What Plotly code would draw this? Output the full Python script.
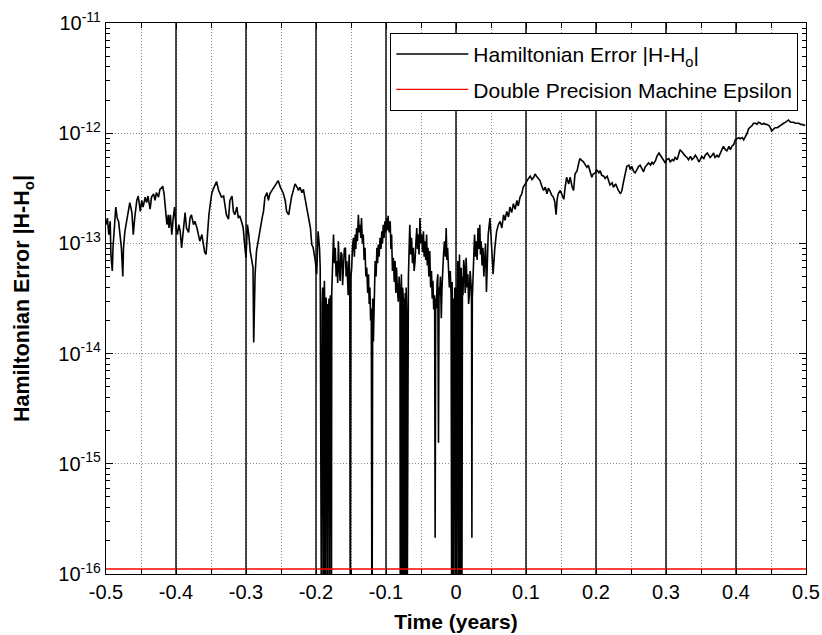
import plotly.graph_objects as go

# ---- data: (time in years, log10 |H - H0|) ----
# a value of -17 means the error falls below the bottom of the axis (drawn off-chart)
west_segment = [
    (-0.500, -12.83), (-0.498, -12.77), (-0.496, -12.92), (-0.494, -12.80), (-0.493, -13.10),
    (-0.491, -13.25), (-0.490, -13.04), (-0.488, -12.86), (-0.486, -12.67), (-0.484, -12.77),
    (-0.482, -12.80), (-0.480, -12.92), (-0.478, -13.04), (-0.476, -13.30), (-0.475, -13.04),
    (-0.473, -12.89), (-0.470, -12.77), (-0.468, -12.67), (-0.466, -12.63), (-0.463, -12.72),
    (-0.461, -12.92), (-0.459, -12.77), (-0.456, -12.61), (-0.454, -12.57), (-0.451, -12.71),
    (-0.449, -12.61), (-0.447, -12.67), (-0.444, -12.58), (-0.442, -12.63), (-0.440, -12.57),
    (-0.437, -12.69), (-0.435, -12.58), (-0.432, -12.55), (-0.430, -12.61), (-0.428, -12.54),
    (-0.425, -12.58), (-0.423, -12.51), (-0.420, -12.49), (-0.419, -12.48), (-0.417, -12.55),
    (-0.415, -12.67), (-0.413, -12.83), (-0.411, -12.74), (-0.410, -12.86), (-0.408, -12.74),
    (-0.406, -12.92), (-0.404, -12.77), (-0.402, -12.67), (-0.400, -12.86), (-0.398, -12.92),
    (-0.396, -12.83), (-0.394, -12.89), (-0.392, -13.04), (-0.389, -12.80), (-0.387, -12.72),
    (-0.385, -12.86), (-0.382, -12.90), (-0.380, -12.77), (-0.378, -12.74), (-0.375, -12.83),
    (-0.373, -12.80), (-0.370, -12.86), (-0.368, -12.92), (-0.366, -12.98), (-0.363, -12.92),
    (-0.361, -13.02), (-0.359, -13.08), (-0.357, -13.10), (-0.355, -12.86), (-0.353, -12.74),
    (-0.351, -12.64), (-0.349, -12.55), (-0.347, -12.51), (-0.344, -12.46), (-0.342, -12.44),
    (-0.339, -12.52), (-0.337, -12.55), (-0.335, -12.58), (-0.332, -12.57), (-0.330, -12.67),
    (-0.328, -12.74), (-0.325, -12.78), (-0.323, -12.61), (-0.320, -12.57), (-0.318, -12.71),
    (-0.316, -12.74), (-0.313, -12.67), (-0.311, -12.77), (-0.309, -12.75), (-0.306, -12.81),
    (-0.304, -12.86), (-0.302, -13.01), (-0.300, -13.13), (-0.298, -12.83), (-0.296, -12.92),
    (-0.294, -13.07), (-0.292, -13.16), (-0.290, -13.22), (-0.289, -13.90), (-0.287, -13.28),
    (-0.285, -13.07), (-0.282, -12.95), (-0.280, -12.86), (-0.277, -12.77), (-0.275, -12.71),
    (-0.273, -12.58), (-0.270, -12.54), (-0.268, -12.61), (-0.266, -12.55), (-0.263, -12.52),
    (-0.261, -12.51), (-0.258, -12.48), (-0.256, -12.46), (-0.254, -12.43), (-0.251, -12.49),
    (-0.249, -12.51), (-0.247, -12.54), (-0.244, -12.61), (-0.242, -12.71), (-0.239, -12.74),
    (-0.237, -12.64), (-0.235, -12.58), (-0.232, -12.51), (-0.230, -12.46), (-0.227, -12.49),
    (-0.225, -12.52), (-0.223, -12.49), (-0.220, -12.54), (-0.218, -12.51), (-0.216, -12.58),
    (-0.213, -12.67), (-0.211, -12.77), (-0.208, -12.86), (-0.206, -13.01), (-0.204, -13.04),
    (-0.201, -13.16), (-0.199, -13.28), (-0.197, -12.89), (-0.195, -13.04), (-0.194, -13.22),
]

central_segment = [
    (-0.1920, -17.0), (-0.1912, -13.55), (-0.1905, -13.40), (-0.1897, -13.70), (-0.1890, -17.0),
    (-0.1885, -13.50), (-0.1880, -13.34), (-0.1875, -13.62), (-0.1870, -17.0), (-0.1862, -13.58),
    (-0.1855, -13.49), (-0.1848, -13.66), (-0.1840, -17.0), (-0.1830, -13.55), (-0.1820, -13.67),
    (-0.1815, -13.50), (-0.1810, -17.0), (-0.1802, -13.62), (-0.1795, -13.47), (-0.1788, -13.66),
    (-0.1780, -17.0), (-0.1775, -13.45), (-0.1770, -13.28), (-0.1760, -13.10), (-0.1750, -12.92),
    (-0.1738, -13.18), (-0.1725, -13.04), (-0.1712, -13.30), (-0.1700, -13.16), (-0.1690, -13.36),
    (-0.1680, -12.98), (-0.1668, -13.22), (-0.1655, -13.34), (-0.1643, -13.08), (-0.1630, -13.10),
    (-0.1620, -13.38), (-0.1610, -13.22), (-0.1595, -13.05), (-0.1580, -13.04), (-0.1570, -13.30),
    (-0.1560, -13.16), (-0.1550, -13.36), (-0.1540, -13.47), (-0.1532, -13.20), (-0.1525, -13.10),
    (-0.1517, -13.40), (-0.1510, -17.0), (-0.1500, -13.30), (-0.1490, -13.22), (-0.1478, -13.02),
    (-0.1465, -12.95), (-0.1452, -13.12), (-0.1440, -12.92), (-0.1430, -13.05), (-0.1420, -12.86),
    (-0.1408, -12.98), (-0.1395, -12.74), (-0.1382, -12.90), (-0.1370, -12.83), (-0.1360, -12.95),
    (-0.1350, -12.77), (-0.1337, -13.00), (-0.1325, -12.92), (-0.1312, -13.15), (-0.1300, -13.04),
    (-0.1288, -13.30), (-0.1275, -13.22), (-0.1262, -13.45), (-0.1250, -13.28), (-0.1240, -13.55),
    (-0.1230, -13.40), (-0.1220, -13.70), (-0.1210, -13.59), (-0.1200, -17.0), (-0.1190, -13.50),
    (-0.1180, -13.89), (-0.1168, -13.30), (-0.1155, -13.16), (-0.1142, -13.30), (-0.1130, -13.04),
    (-0.1120, -13.18), (-0.1110, -13.01), (-0.1098, -13.12), (-0.1085, -12.95), (-0.1072, -13.05),
    (-0.1060, -12.89), (-0.1050, -13.00), (-0.1040, -12.83), (-0.1028, -12.95), (-0.1015, -12.80),
    (-0.1002, -12.90), (-0.0990, -12.77), (-0.0980, -12.88), (-0.0970, -12.75), (-0.0955, -12.90),
    (-0.0940, -12.80), (-0.0930, -13.05), (-0.0920, -12.92), (-0.0908, -13.25), (-0.0895, -13.13),
    (-0.0882, -13.35), (-0.0870, -13.16), (-0.0860, -13.45), (-0.0850, -13.22), (-0.0838, -13.40),
    (-0.0825, -13.53), (-0.0812, -13.30), (-0.0800, -13.44), (-0.0795, -17.0), (-0.0788, -13.55),
    (-0.0780, -13.28), (-0.0775, -13.60), (-0.0770, -17.0), (-0.0762, -13.40), (-0.0755, -13.47),
    (-0.0750, -13.70), (-0.0745, -17.0), (-0.0738, -13.50), (-0.0730, -13.65), (-0.0725, -13.45),
    (-0.0720, -17.0), (-0.0712, -13.40), (-0.0705, -13.59), (-0.0700, -17.0), (-0.0690, -13.45),
    (-0.0680, -13.31), (-0.0670, -13.05), (-0.0660, -12.83), (-0.0648, -13.10), (-0.0635, -12.95),
    (-0.0622, -13.18), (-0.0610, -13.04), (-0.0598, -13.25), (-0.0585, -13.16), (-0.0572, -12.98),
    (-0.0560, -12.86), (-0.0550, -13.05), (-0.0540, -12.92), (-0.0528, -13.10), (-0.0515, -12.77),
    (-0.0502, -13.00), (-0.0490, -12.92), (-0.0478, -13.08), (-0.0465, -12.89), (-0.0455, -13.12),
    (-0.0445, -12.98), (-0.0432, -13.15), (-0.0420, -12.92), (-0.0410, -13.20), (-0.0400, -13.04),
    (-0.0388, -13.30), (-0.0375, -13.07), (-0.0362, -13.40), (-0.0350, -13.25), (-0.0340, -13.50),
    (-0.0330, -13.34), (-0.0318, -13.60), (-0.0305, -13.47), (-0.0298, -15.67), (-0.0290, -13.50),
    (-0.0280, -13.59), (-0.0270, -13.35), (-0.0260, -13.28), (-0.0250, -14.81), (-0.0242, -13.40),
    (-0.0235, -13.47), (-0.0222, -13.30), (-0.0210, -13.68), (-0.0200, -13.40), (-0.0190, -13.22),
    (-0.0178, -13.10), (-0.0165, -12.98), (-0.0152, -13.12), (-0.0140, -12.86), (-0.0130, -13.15),
    (-0.0120, -13.04), (-0.0108, -13.30), (-0.0095, -13.40), (-0.0082, -13.25), (-0.0070, -13.47),
    (-0.0060, -17.0), (-0.0055, -13.35), (-0.0050, -13.68), (-0.0045, -13.45), (-0.0040, -17.0),
    (-0.0032, -13.50), (-0.0025, -13.77), (-0.0018, -13.40), (-0.0010, -17.0), (-0.0005, -13.55),
    (0.0000, -13.40), (0.0005, -13.60), (0.0010, -17.0), (0.0018, -13.45), (0.0025, -13.16),
    (0.0032, -13.50), (0.0040, -17.0), (0.0045, -13.40), (0.0050, -13.10), (0.0055, -13.45),
    (0.0060, -17.0), (0.0068, -13.50), (0.0075, -13.22), (0.0079, -13.55), (0.0083, -17.0),
    (0.0092, -13.30), (0.0100, -13.47), (0.0110, -13.15), (0.0120, -13.22), (0.0132, -13.45),
    (0.0145, -13.13), (0.0158, -13.40), (0.0170, -13.28), (0.0180, -13.55), (0.0190, -13.47),
    (0.0202, -13.25), (0.0215, -13.37), (0.0222, -13.55), (0.0227, -15.67), (0.0233, -13.50),
    (0.0240, -13.40), (0.0252, -13.10), (0.0265, -12.92), (0.0278, -13.12), (0.0290, -12.98),
    (0.0302, -13.15), (0.0315, -12.86), (0.0328, -13.05), (0.0340, -12.83), (0.0350, -13.10),
    (0.0360, -12.98), (0.0372, -13.20), (0.0385, -13.04), (0.0398, -13.30), (0.0410, -13.16),
    (0.0422, -13.00), (0.0435, -13.44), (0.0448, -13.10), (0.0460, -12.92), (0.0472, -12.85),
    (0.0485, -12.77),
]

east_segment = [
    (0.0510, -13.04), (0.0530, -13.28), (0.0555, -13.04), (0.0580, -12.89), (0.0605, -12.83),
    (0.0630, -12.80), (0.0655, -12.86), (0.0680, -12.74), (0.0700, -12.79), (0.0725, -12.71),
    (0.0750, -12.76), (0.0770, -12.67), (0.0795, -12.72), (0.0820, -12.64), (0.0845, -12.69),
    (0.0870, -12.61), (0.0890, -12.66), (0.0915, -12.58), (0.0940, -12.55), (0.0960, -12.49),
    (0.0990, -12.46), (0.1010, -12.43), (0.1035, -12.41), (0.1060, -12.39), (0.1085, -12.42),
    (0.1110, -12.40), (0.1130, -12.37), (0.1150, -12.39), (0.1175, -12.41), (0.1200, -12.43),
    (0.1225, -12.48), (0.1250, -12.52), (0.1275, -12.49), (0.1300, -12.55), (0.1320, -12.50),
    (0.1340, -12.52), (0.1365, -12.56), (0.1390, -12.58), (0.1410, -12.62), (0.1430, -12.74),
    (0.1445, -12.60), (0.1460, -12.55),
    (0.149, -12.52), (0.151, -12.55), (0.154, -12.60), (0.156, -12.49), (0.158, -12.40),
    (0.161, -12.46), (0.163, -12.40), (0.166, -12.49), (0.168, -12.52), (0.170, -12.37),
    (0.173, -12.34), (0.175, -12.28), (0.177, -12.23), (0.180, -12.25), (0.182, -12.26),
    (0.185, -12.29), (0.187, -12.31), (0.189, -12.29), (0.192, -12.36), (0.194, -12.40),
    (0.196, -12.37), (0.199, -12.36), (0.201, -12.33), (0.204, -12.36), (0.206, -12.34),
    (0.208, -12.38), (0.211, -12.39), (0.213, -12.41), (0.216, -12.39), (0.218, -12.44),
    (0.220, -12.47), (0.223, -12.45), (0.225, -12.49), (0.228, -12.46), (0.230, -12.50),
    (0.232, -12.52), (0.235, -12.55), (0.237, -12.52), (0.239, -12.45), (0.242, -12.34),
    (0.244, -12.30), (0.247, -12.29), (0.249, -12.33), (0.251, -12.30), (0.254, -12.35),
    (0.256, -12.36), (0.258, -12.33), (0.261, -12.30), (0.263, -12.29), (0.266, -12.33),
    (0.268, -12.35), (0.270, -12.31), (0.273, -12.29), (0.275, -12.27), (0.278, -12.29),
    (0.280, -12.26), (0.282, -12.28), (0.285, -12.25), (0.287, -12.21), (0.290, -12.18),
    (0.292, -12.20), (0.294, -12.22), (0.297, -12.26), (0.299, -12.27), (0.301, -12.24),
    (0.304, -12.23), (0.306, -12.26), (0.309, -12.24), (0.311, -12.25), (0.313, -12.22),
    (0.316, -12.24), (0.318, -12.18), (0.320, -12.15), (0.323, -12.17), (0.325, -12.19),
    (0.328, -12.21), (0.330, -12.22), (0.332, -12.24), (0.335, -12.21), (0.337, -12.24),
    (0.340, -12.22), (0.342, -12.20), (0.344, -12.22), (0.347, -12.26), (0.349, -12.24),
    (0.351, -12.21), (0.354, -12.23), (0.356, -12.20), (0.359, -12.18), (0.361, -12.20),
    (0.363, -12.22), (0.366, -12.20), (0.368, -12.18), (0.370, -12.22), (0.373, -12.20),
    (0.375, -12.22), (0.378, -12.18), (0.380, -12.15), (0.382, -12.12), (0.385, -12.15),
    (0.387, -12.16), (0.390, -12.12), (0.392, -12.15), (0.394, -12.12), (0.397, -12.10),
    (0.399, -12.06), (0.401, -12.05), (0.404, -12.04), (0.406, -12.05), (0.409, -12.04),
    (0.411, -12.06), (0.413, -12.04), (0.416, -12.00), (0.418, -11.96), (0.420, -11.95),
    (0.423, -11.93), (0.425, -11.91), (0.428, -11.91), (0.430, -11.92), (0.432, -11.90),
    (0.435, -11.91), (0.437, -11.92), (0.440, -11.91), (0.442, -11.92), (0.444, -11.92),
    (0.447, -11.93), (0.449, -11.95), (0.451, -11.98), (0.454, -11.96), (0.456, -11.95),
    (0.459, -11.95), (0.461, -11.94), (0.463, -11.93), (0.466, -11.92), (0.468, -11.91),
    (0.471, -11.90), (0.473, -11.89), (0.475, -11.88), (0.478, -11.90), (0.480, -11.90),
    (0.482, -11.90), (0.485, -11.91), (0.487, -11.91), (0.490, -11.91), (0.492, -11.92),
    (0.494, -11.92), (0.499, -11.93),
]

machine_epsilon = 1.11e-16
time_limits = [-0.5, 0.5]
year_markers = [-0.4, -0.3, -0.2, -0.1, 0.0, 0.1, 0.2, 0.3, 0.4]
x_tick_vals = [-0.5, -0.4, -0.3, -0.2, -0.1, 0.0, 0.1, 0.2, 0.3, 0.4, 0.5]
x_tick_labels = ["-0.5", "-0.4", "-0.3", "-0.2", "-0.1", "0", "0.1", "0.2", "0.3", "0.4", "0.5"]
y_decades = [-16, -15, -14, -13, -12, -11]
y_tick_labels = ["10<sup>-16</sup>", "10<sup>-15</sup>", "10<sup>-14</sup>",
                 "10<sup>-13</sup>", "10<sup>-12</sup>", "10<sup>-11</sup>"]
minor_mantissas = [2, 3, 4, 5, 6, 7, 8, 9]

# ---- build series ----
points = west_segment + central_segment + east_segment
times = [p[0] for p in points]
errors = [10.0 ** p[1] for p in points]

y_bottom = 10.0 ** y_decades[0]
y_top = 10.0 ** y_decades[-1]
marker_x, marker_y = [], []
for t in year_markers:
    marker_x += [t, t, None]
    marker_y += [y_bottom, y_top, None]

FONT = "Liberation Sans, Arial, Helvetica, sans-serif"
GRID = "#8a8a8a"
DOTS = "1px,2px"

fig = go.Figure()
fig.add_trace(go.Scatter(
    x=marker_x, y=marker_y, mode="lines",
    line=dict(color="black", width=1.4),
    showlegend=False, hoverinfo="skip",
))
fig.add_trace(go.Scatter(
    x=times, y=errors, mode="lines",
    line=dict(color="#000000", width=1.6),
    name="Hamiltonian Error |H-H<sub>o</sub>|", legendgroup="g1",
))
fig.add_trace(go.Scatter(
    x=time_limits, y=[machine_epsilon, machine_epsilon], mode="lines",
    line=dict(color="#ff0000", width=1.3),
    name="Double Precision Machine Epsilon", legendgroup="g2",
))

y_minor = [m * 10.0 ** d for d in y_decades[:-1] for m in minor_mantissas]

fig.update_layout(
    width=822, height=635,
    margin=dict(l=106, r=16, t=23, b=61, autoexpand=False),
    paper_bgcolor="white", plot_bgcolor="white",
    font=dict(family=FONT, size=20, color="black"),
    showlegend=True,
    legend=dict(
        x=0.989, y=0.982, xanchor="right", yanchor="top",
        bgcolor="white", bordercolor="black", borderwidth=1,
        font=dict(family=FONT, size=21, color="black"),
        itemwidth=72, tracegroupgap=5,
    ),
    xaxis=dict(
        range=time_limits, automargin=False,
        tickmode="array", tickvals=x_tick_vals, ticktext=x_tick_labels,
        ticks="inside", ticklen=6, tickwidth=1, tickcolor="black",
        showline=True, linecolor="black", linewidth=1.3, mirror="ticks",
        showgrid=True, gridcolor=GRID, griddash=DOTS, gridwidth=1,
        zeroline=False,
        minor=dict(dtick=0.05, tick0=0, ticks="inside", ticklen=5, tickcolor="black",
                   showgrid=True, gridcolor=GRID, griddash=DOTS, gridwidth=1),
        tickfont=dict(size=20),
        title=dict(text="<b>Time (years)</b>", font=dict(size=21), standoff=12),
    ),
    yaxis=dict(
        type="log", range=[-16, -11], automargin=False,
        tickmode="array", tickvals=[10.0 ** d for d in y_decades], ticktext=y_tick_labels,
        ticks="inside", ticklen=7, tickwidth=1, tickcolor="black",
        showline=True, linecolor="black", linewidth=1.3, mirror="ticks",
        showgrid=True, gridcolor=GRID, griddash=DOTS, gridwidth=1,
        zeroline=False,
        minor=dict(tickvals=y_minor, ticks="inside", ticklen=4, tickcolor="black",
                   showgrid=False),
        tickfont=dict(size=20),
        title=dict(text="<b>Hamiltonian Error |H-H<sub>o</sub>|</b>", font=dict(size=21.5), standoff=22),
    ),
)

fig.write_html("out.html", config={"displayModeBar": False},
               post_script="document.body.style.margin='0';")
